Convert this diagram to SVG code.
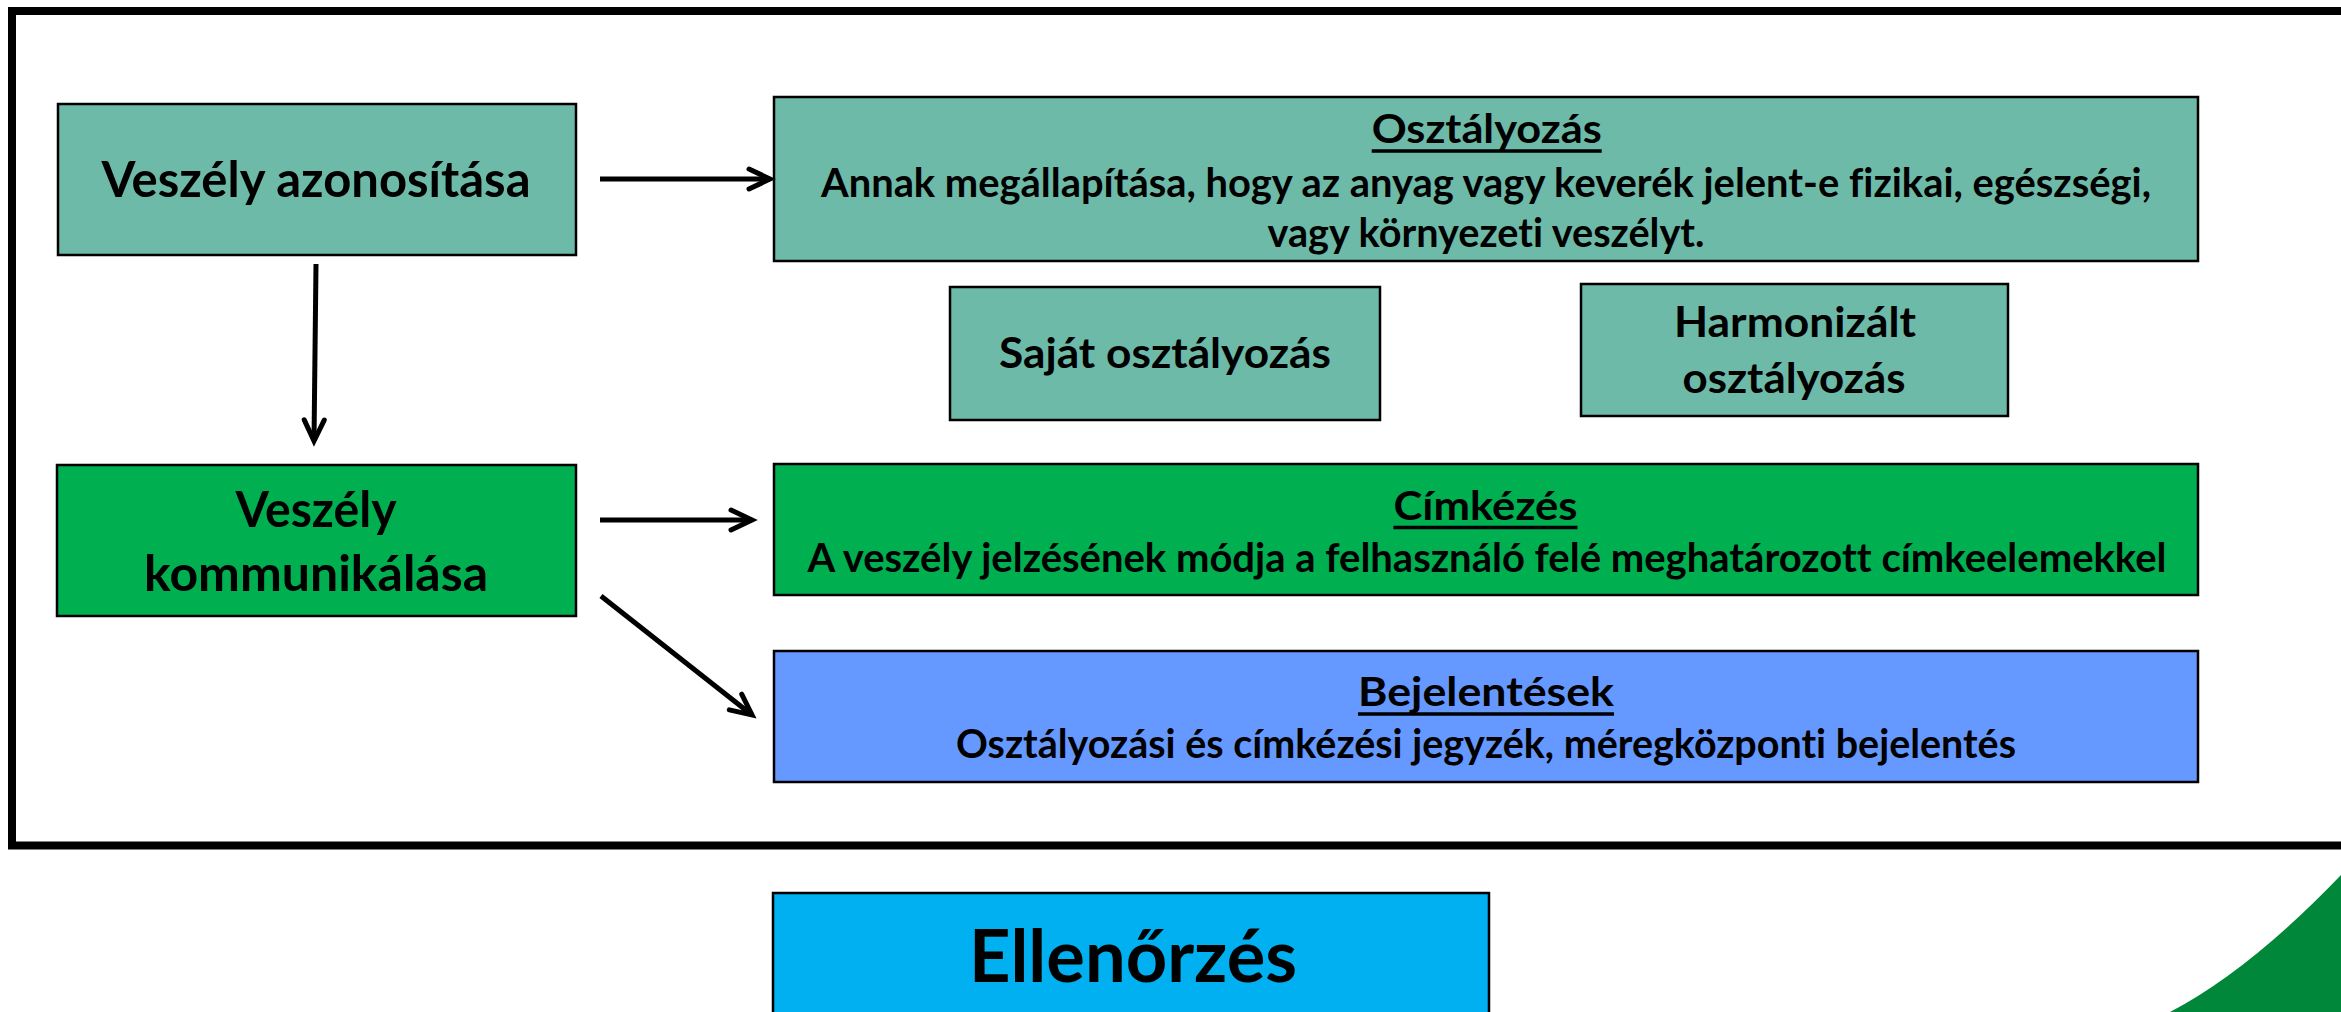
<svg xmlns="http://www.w3.org/2000/svg" width="2341" height="1012" viewBox="0 0 2341 1012">
<style>
.box{stroke:#000;stroke-width:2.5}
.teal{fill:#6DBAA8}
.green{fill:#00AF50}
.blue{fill:#6699FF}
.cyan{fill:#00B0F0}
text{font-family:Lato,"Open Sans","Liberation Sans",sans-serif;font-weight:bold;fill:#000;text-anchor:middle;font-variant-ligatures:none}
.t38{font-size:40px}
.t40{font-size:42px}
.t47{font-size:50px}
.t68{font-size:72px}
.ul{stroke:#000;stroke-width:3.5}
.conn{stroke:#000;stroke-width:5;fill:none;marker-end:url(#arr)}
</style>
<defs>
<marker id="arr" markerUnits="userSpaceOnUse" markerWidth="40" markerHeight="40" refX="0" refY="0" viewBox="-30 -20 40 40" orient="auto" overflow="visible">
<path d="M-21,-10 L0,0 L-21,10" fill="none" stroke="#000" stroke-width="5" stroke-linecap="round" stroke-linejoin="miter"/>
</marker>
</defs>
<rect width="2341" height="1012" fill="#fff"/>
<rect id="frame" x="12" y="11" width="2345" height="834.5" fill="none" stroke="#000" stroke-width="8"/>
<path id="corner" d="M2341,875 Q2250,970 2170,1012 L2341,1012 Z" fill="#00873A"/>

<g id="node-azonositas">
<rect class="box teal" x="58" y="104" width="518" height="151"/>
<text class="t47" x="316" y="197" textLength="429" lengthAdjust="spacingAndGlyphs">Veszély azonosítása</text>
</g>
<g id="node-osztalyozas">
<rect class="box teal" x="774" y="97" width="1424" height="164"/>
<text class="t38" x="1486.7" y="143" textLength="230" lengthAdjust="spacingAndGlyphs">Osztályozás</text>
<line class="ul" x1="1371.7" y1="151" x2="1601.7" y2="151"/>
<text class="t38" x="1486" y="197" textLength="1330" lengthAdjust="spacingAndGlyphs">Annak megállapítása, hogy az anyag vagy keverék jelent-e fizikai, egészségi,</text>
<text class="t38" x="1486" y="247" textLength="437" lengthAdjust="spacingAndGlyphs">vagy környezeti veszélyt.</text>
</g>
<g id="node-sajat">
<rect class="box teal" x="950" y="287" width="430" height="133"/>
<text class="t40" x="1165" y="368" textLength="332" lengthAdjust="spacingAndGlyphs">Saját osztályozás</text>
</g>
<g id="node-harmonizalt">
<rect class="box teal" x="1581" y="284" width="427" height="132"/>
<text class="t40" x="1795" y="337" textLength="242" lengthAdjust="spacingAndGlyphs">Harmonizált</text>
<text class="t40" x="1794" y="393" textLength="223" lengthAdjust="spacingAndGlyphs">osztályozás</text>
</g>
<g id="node-kommunikalas">
<rect class="box green" x="57" y="465" width="519" height="151"/>
<text class="t47" x="316" y="527" textLength="161" lengthAdjust="spacingAndGlyphs">Veszély</text>
<text class="t47" x="316" y="591" textLength="344" lengthAdjust="spacingAndGlyphs">kommunikálása</text>
</g>
<g id="node-cimkezes">
<rect class="box green" x="774" y="464" width="1424" height="131"/>
<text class="t38" x="1485.5" y="520" textLength="184" lengthAdjust="spacingAndGlyphs">Címkézés</text>
<line class="ul" x1="1393.5" y1="527.5" x2="1577.5" y2="527.5"/>
<text class="t38" x="1487" y="572" textLength="1359" lengthAdjust="spacingAndGlyphs">A veszély jelzésének módja a felhasználó felé meghatározott címkeelemekkel</text>
</g>
<g id="node-bejelentesek">
<rect class="box blue" x="774" y="651" width="1424" height="131"/>
<text class="t38" x="1486" y="706" textLength="256" lengthAdjust="spacingAndGlyphs">Bejelentések</text>
<line class="ul" x1="1358" y1="714" x2="1614" y2="714"/>
<text class="t38" x="1486" y="758" textLength="1060" lengthAdjust="spacingAndGlyphs">Osztályozási és címkézési jegyzék, méregközponti bejelentés</text>
</g>
<g id="node-ellenorzes">
<rect class="box cyan" x="773" y="893" width="716" height="140"/>
<text class="t68" x="1133" y="982" textLength="328" lengthAdjust="spacingAndGlyphs">Ellenőrzés</text>
</g>

<g id="connectors">
<line class="conn" x1="600" y1="179" x2="770" y2="179"/>
<line class="conn" x1="316" y1="264" x2="314" y2="441"/>
<line class="conn" x1="600" y1="520" x2="752" y2="520"/>
<line class="conn" x1="601" y1="596" x2="752" y2="715"/>
</g>
</svg>
